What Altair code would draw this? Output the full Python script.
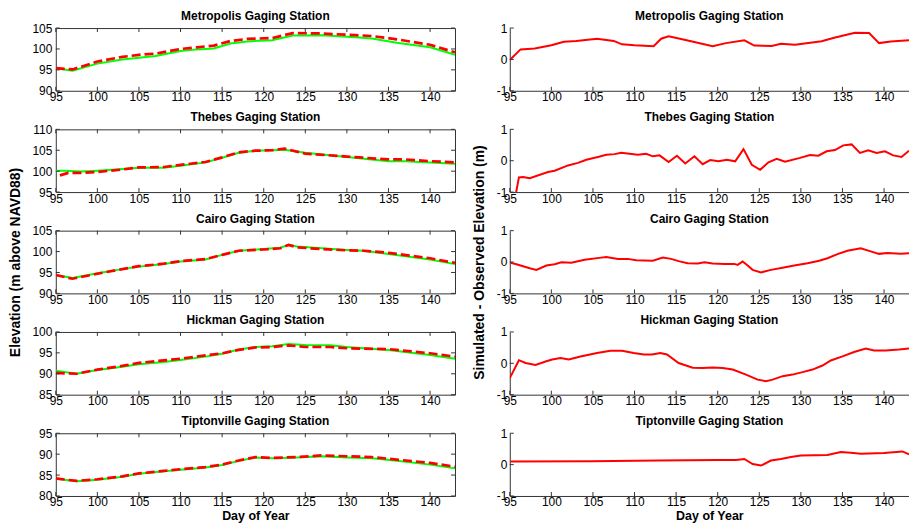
import altair as alt
import pandas as pd

# ---------------- data ----------------
X_TICKS = [95, 100, 105, 110, 115, 120, 125, 130, 135, 140]
X_DOMAIN = [95, 143]
DIFF_TICKS = [-1, 0, 1]

STATIONS = ["Metropolis Gaging Station", "Thebes Gaging Station", "Cairo Gaging Station",
            "Hickman Gaging Station", "Tiptonville Gaging Station"]
Y_LOW = [90, 95, 90, 85, 80]

# Metropolis
met_obs_day = [95, 97, 100, 103, 105, 107, 110, 112, 114, 116, 118, 121, 123.5, 127, 131, 133, 136, 140, 143]
met_obs = [95.4, 94.8, 96.5, 97.5, 97.9, 98.3, 99.5, 99.9, 100.1, 101.3, 101.8, 102.1, 103.2, 103.3, 102.8, 102.5, 101.5, 100.4, 98.6]
met_sim_day = [95, 97, 100, 103, 105, 107, 110, 112, 114, 116, 118, 121, 123.5, 127, 131, 133, 136, 140, 143]
met_sim = [95.4, 95.1, 97.0, 98.1, 98.6, 98.9, 100.0, 100.4, 100.8, 101.9, 102.4, 102.6, 103.8, 103.7, 103.3, 103.1, 102.3, 101.0, 99.2]
met_diff_day = [95, 96.3, 98, 100, 101.5, 103, 105.5, 107.5, 108.5, 110, 112.3, 113.2, 114.1, 116, 119.4, 121, 123.2, 124.4,
                126.5, 127.6, 129.3, 132.5, 134, 136.5, 138.2, 139.4, 140.8, 143]
met_diff = [-0.02, 0.32, 0.35, 0.45, 0.56, 0.59, 0.66, 0.59, 0.48, 0.45, 0.42, 0.66, 0.74, 0.63, 0.42, 0.52, 0.61, 0.44,
            0.43, 0.50, 0.47, 0.58, 0.69, 0.85, 0.84, 0.52, 0.57, 0.61]

# Thebes
the_obs_day = [95, 96, 98, 100, 103, 105, 108, 110, 113, 115, 117, 119, 121, 122.5, 125, 130, 135, 137, 140, 143]
the_obs = [100.1, 100.1, 99.9, 100.1, 100.5, 100.8, 100.8, 101.3, 102.1, 103.2, 104.4, 104.9, 105.0, 105.1, 104.4, 103.4, 102.4, 102.4, 102.1, 101.8]
the_sim_day = [95.5, 96.5, 98, 100, 103, 105, 108, 110, 113, 115, 117, 119, 121, 122.5, 125, 130, 135, 137, 140, 143]
the_sim = [99.0, 99.6, 99.6, 99.8, 100.4, 100.9, 101.0, 101.5, 102.2, 103.3, 104.5, 104.9, 105.0, 105.4, 104.2, 103.5, 102.8, 102.8, 102.4, 102.1]
the_diff_day = [95.7, 96.1, 96.6, 97.4, 99.6, 100.4, 102, 103.2, 104.2, 105.6, 106.6, 107.6, 108.4, 109.4, 110.4, 111.4,
                112.2, 113, 114.1, 115.1, 116.1, 117.2, 118.2, 119.1, 120.1, 121.1, 122.1, 123.1, 124.1, 125.1, 126.1,
                127.1, 128.1, 129.9, 131.1, 132.1, 133.1, 134.1, 135.1, 136.1, 137.1, 138.1, 139.1, 140.1, 141.1, 142.1, 143]
the_diff = [-1.1, -0.53, -0.52, -0.56, -0.36, -0.32, -0.15, -0.07, 0.03, 0.12, 0.19, 0.21, 0.25, 0.22, 0.19, 0.22,
            0.14, 0.17, -0.04, 0.16, -0.09, 0.14, -0.11, 0.02, -0.02, 0.03, -0.02, 0.37, -0.13, -0.29, -0.05,
            0.06, -0.03, 0.09, 0.18, 0.16, 0.30, 0.34, 0.49, 0.52, 0.25, 0.33, 0.25, 0.30, 0.17, 0.12, 0.32]

# Cairo
cai_obs_day = [95, 97, 100, 103, 105, 108, 110, 113, 115, 117, 120, 122, 123, 124, 127, 130, 132, 135, 140, 143]
cai_obs = [94.4, 93.7, 94.8, 95.8, 96.4, 97.0, 97.6, 98.1, 99.2, 100.2, 100.6, 100.9, 101.6, 101.2, 100.8, 100.4, 100.2, 99.4, 98.1, 97.0]
cai_sim_day = [95, 97, 100, 103, 105, 108, 110, 113, 115, 117, 120, 122, 123, 124, 127, 130, 132, 135, 140, 143]
cai_sim = [94.4, 93.5, 94.7, 95.8, 96.5, 97.1, 97.7, 98.2, 99.2, 100.2, 100.5, 100.8, 101.6, 101.0, 100.6, 100.3, 100.2, 99.7, 98.4, 97.3]
cai_diff_day = [95, 95.8, 97.4, 98.2, 99.4, 100.4, 101.2, 102.4, 104, 106, 106.6, 108, 109.2, 110.2, 112.2, 113.4,
                114.4, 115.4, 116.4, 117.6, 118.4, 119.4, 120.8, 122, 122.4, 123, 123.6, 124.2, 125.2, 126.4, 127.8,
                129.2, 130.8, 132.2, 133.2, 134.4, 135.6, 137.2, 138.4, 139.4, 140.4, 142, 143]
cai_diff = [-0.02, -0.07, -0.20, -0.25, -0.11, -0.07, -0.01, -0.02, 0.07, 0.14, 0.16, 0.10, 0.10, 0.06, 0.04, 0.14,
            0.10, 0.02, -0.04, -0.05, -0.01, -0.05, -0.06, -0.06, -0.09, 0.02, -0.11, -0.25, -0.33, -0.25, -0.18,
            -0.11, -0.04, 0.04, 0.12, 0.25, 0.36, 0.44, 0.34, 0.26, 0.29, 0.26, 0.28]

# Hickman
hic_obs_day = [95, 97.5, 100, 103, 105, 108, 110, 113, 115, 117, 119, 121, 123, 125, 128, 130, 135, 140, 143]
hic_obs = [90.7, 90.0, 90.9, 91.7, 92.3, 92.8, 93.3, 94.1, 94.8, 95.8, 96.4, 96.6, 97.1, 96.9, 96.8, 96.4, 95.7, 94.5, 93.6]
hic_sim_day = [95, 97.5, 100, 103, 105, 108, 110, 113, 115, 117, 119, 121, 123, 125, 128, 130, 135, 140, 143]
hic_sim = [90.2, 90.0, 91.0, 91.9, 92.6, 93.2, 93.6, 94.4, 94.9, 95.7, 96.3, 96.4, 96.8, 96.4, 96.4, 96.1, 95.9, 94.9, 94.1]
hic_diff_day = [95, 96.1, 96.9, 98.1, 99.3, 100.1, 101.1, 102.1, 103.5, 105.5, 107.1, 108.5, 109.9, 111.1, 112.1,
                113.1, 113.9, 115.3, 117, 118.2, 119.4, 120.6, 121.8, 123.4, 124.8, 125.8, 126.6, 127.8, 129, 130.2,
                131.4, 132.6, 133.6, 135, 136.4, 137.8, 138.8, 140.2, 141.8, 143]
hic_diff = [-0.47, 0.10, 0.01, -0.05, 0.06, 0.12, 0.17, 0.12, 0.22, 0.33, 0.40, 0.40, 0.33, 0.28, 0.28,
            0.33, 0.28, 0.01, -0.14, -0.15, -0.13, -0.15, -0.20, -0.36, -0.52, -0.57, -0.52, -0.41, -0.36, -0.28,
            -0.20, -0.07, 0.09, 0.22, 0.36, 0.47, 0.41, 0.41, 0.44, 0.47]

# Tiptonville
tip_obs_day = [95, 97.5, 100, 103, 105, 108, 110, 113, 115, 117, 119, 121, 124, 127, 130, 133, 136, 140, 143]
tip_obs = [84.1, 83.5, 83.9, 84.6, 85.3, 85.9, 86.3, 86.8, 87.4, 88.4, 89.2, 89.0, 89.2, 89.5, 89.2, 89.0, 88.4, 87.5, 86.6]
tip_sim_day = [95, 97.5, 100, 103, 105, 108, 110, 113, 115, 117, 119, 121, 124, 127, 130, 133, 136, 140, 143]
tip_sim = [84.2, 83.6, 84.0, 84.7, 85.4, 86.0, 86.4, 86.9, 87.5, 88.5, 89.3, 89.1, 89.3, 89.7, 89.5, 89.3, 88.7, 87.9, 87.0]
tip_diff_day = [95, 104.8, 112.8, 120, 122.2, 123.2, 124.2, 125.2, 126.4, 127.6, 128.8, 130, 133.2, 134.8, 136,
                137.2, 140, 142.2, 143]
tip_diff = [0.10, 0.11, 0.13, 0.15, 0.15, 0.18, 0.02, -0.03, 0.13, 0.18, 0.24, 0.29, 0.31, 0.40, 0.38,
            0.35, 0.37, 0.42, 0.33]

OBS_DAYS = [met_obs_day, the_obs_day, cai_obs_day, hic_obs_day, tip_obs_day]
OBS = [met_obs, the_obs, cai_obs, hic_obs, tip_obs]
SIM_DAYS = [met_sim_day, the_sim_day, cai_sim_day, hic_sim_day, tip_sim_day]
SIM = [met_sim, the_sim, cai_sim, hic_sim, tip_sim]
DIFF_DAYS = [met_diff_day, the_diff_day, cai_diff_day, hic_diff_day, tip_diff_day]
DIFF = [met_diff, the_diff, cai_diff, hic_diff, tip_diff]

# ---------------- style ----------------
FONT = "Liberation Sans"
AXC = "#333333"
GREEN = "#00ff00"
RED = "#ff0000"
W, H = 401, 63
TICK = 4


def tick_layers(xs, ys, xaxis, yaxis, xtitle, ytitle, yticks, box):
    xt = pd.DataFrame({"t": X_TICKS})
    yt = pd.DataFrame({"t": yticks})
    base_x = alt.Chart(xt).mark_rule(color=AXC, strokeWidth=1)
    base_y = alt.Chart(yt).mark_rule(color=AXC, strokeWidth=1)
    X = alt.X("t:Q", scale=xs, axis=xaxis, title=xtitle)
    Y = alt.Y("t:Q", scale=ys, axis=yaxis, title=ytitle)
    layers = [
        base_x.encode(x=X, y=alt.value(H), y2=alt.value(H - TICK)),
        base_y.encode(y=Y, x=alt.value(0), x2=alt.value(TICK)),
    ]
    if box:
        layers.append(base_x.encode(x=X, y=alt.value(0), y2=alt.value(TICK)))
        layers.append(base_y.encode(y=Y, x=alt.value(W), x2=alt.value(W - TICK)))
    return layers


def station_label(i):
    return alt.Chart(pd.DataFrame({"name": [STATIONS[i]]})).mark_text(
        font=FONT, fontSize=12, fontWeight="bold", color="black", align="center", baseline="middle"
    ).encode(text="name:N", x=alt.value(W / 2), y=alt.value(-12))


def x_axis(box):
    return alt.Axis(values=X_TICKS, format="d", ticks=False, domain=not box, domainColor=AXC, grid=False,
                    labelPadding=1, labelFlush=False, titlePadding=2, titleFontSize=12.5)


def left_panel(i, ytitle, xtitle):
    lo = Y_LOW[i]
    yticks = [lo, lo + 5, lo + 10, lo + 15]
    xs = alt.Scale(domain=X_DOMAIN, nice=False, zero=False)
    ys = alt.Scale(domain=[lo, lo + 15], nice=False, zero=False)
    xaxis = x_axis(True)
    yaxis = alt.Axis(values=yticks, format="d", ticks=False, domain=False, grid=False,
                     labelPadding=4, titlePadding=9)
    obs = alt.Chart(pd.DataFrame({"day": OBS_DAYS[i], "elev": OBS[i]})).mark_line(
        color=GREEN, strokeWidth=2, clip=True).encode(
        x=alt.X("day:Q", scale=xs, axis=xaxis, title=xtitle),
        y=alt.Y("elev:Q", scale=ys, axis=yaxis, title=ytitle))
    sim = alt.Chart(pd.DataFrame({"day": SIM_DAYS[i], "elev": SIM[i]})).mark_line(
        color=RED, strokeWidth=2.7, strokeDash=[9, 4], clip=True).encode(
        x=alt.X("day:Q", scale=xs, axis=xaxis, title=xtitle),
        y=alt.Y("elev:Q", scale=ys, axis=yaxis, title=ytitle))
    ticks = tick_layers(xs, ys, xaxis, yaxis, xtitle, ytitle, yticks, True)
    return alt.layer(obs, sim, *ticks, station_label(i)).properties(
        width=W, height=H, view=alt.ViewBackground(stroke=AXC, strokeWidth=1))


def right_panel(i, ytitle, xtitle):
    xs = alt.Scale(domain=X_DOMAIN, nice=False, zero=False)
    ys = alt.Scale(domain=[-1, 1], nice=False, zero=False)
    xaxis = x_axis(False)
    yaxis = alt.Axis(values=DIFF_TICKS, ticks=False, domain=True, domainColor=AXC, grid=False,
                     labelExpr="'' + datum.value", labelPadding=3, titlePadding=10)
    line = alt.Chart(pd.DataFrame({"day": DIFF_DAYS[i], "diff": DIFF[i]})).mark_line(
        color=RED, strokeWidth=2, clip=True).encode(
        x=alt.X("day:Q", scale=xs, axis=xaxis, title=xtitle),
        y=alt.Y("diff:Q", scale=ys, axis=yaxis, title=ytitle))
    ticks = tick_layers(xs, ys, xaxis, yaxis, xtitle, ytitle, DIFF_TICKS, False)
    return alt.layer(line, *ticks, station_label(i)).properties(
        width=W, height=H, view=alt.ViewBackground(strokeWidth=0))


panels = []
for i in range(5):
    lt = "Elevation (m above NAVD88)" if i == 2 else None
    rt = "Simulated - Observed Elevation (m)" if i == 2 else None
    xt = "Day of Year" if i == 4 else None
    panels.append(left_panel(i, lt, xt))
    panels.append(right_panel(i, rt, xt))

chart = alt.concat(
    *panels, columns=2, spacing=alt.RowColnumber(row=38.75, column=55), align="each", bounds="flush"
).properties(
    padding=0, background="white"
).configure_axis(
    labelFont=FONT, labelFontSize=12, labelColor="black",
    titleFont=FONT, titleFontSize=14, titleFontWeight="bold", titleColor="black"
).configure_view(
    strokeWidth=0
)

chart.save("out.html", embed_options={"renderer": "svg", "actions": False})
